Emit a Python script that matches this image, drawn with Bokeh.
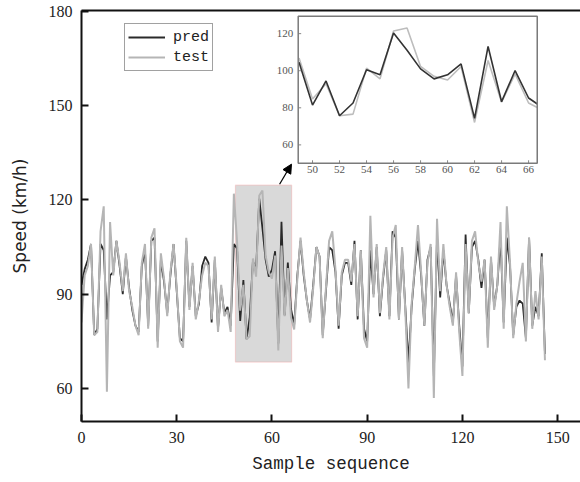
from bokeh.plotting import figure
from bokeh.models import (Range1d, LinearAxis, FixedTicker, Legend, LegendItem,
                          BoxAnnotation, Arrow, NormalHead, ColumnDataSource)
from bokeh.core.properties import value
from bokeh.embed import file_html
from bokeh.resources import INLINE

# ---------------- data ----------------
pred = [93, 98, 101, 106, 77, 79, 106, 104, 82, 96,
        97, 107, 99, 90, 102, 92, 85, 80, 78, 99,
        104, 80, 107, 108, 75, 101, 94, 84, 96, 106,
        91, 76, 75, 107, 86, 99, 83, 87, 99, 102,
        100, 81, 101, 79, 92, 84, 86, 80, 106, 104.6,
        81.5, 94.5, 75.7, 82.6, 100.5, 97.8, 120.4, 111, 101, 95.6,
        97.8, 103.7, 74.3, 113.1, 83.3, 100.1, 85.3, 80.3, 96, 107,
        96, 88, 82, 93, 105, 102, 77, 91, 105, 104,
        97, 79, 96, 100, 100, 93, 107, 82, 104, 79,
        75, 104, 90, 105, 83, 95, 104, 83, 110, 108,
        82, 104, 86, 68, 86, 98, 107, 96, 80, 101,
        105, 64, 108, 89, 104, 93, 87, 81, 96, 80,
        67, 109, 84, 105, 107, 101, 92, 101, 76, 101,
        86, 93, 108, 81, 108, 99, 77, 86, 88, 87,
        76, 108, 80, 86, 83, 103, 71]
test = [81, 96, 99, 106, 77, 78, 110, 118, 59, 113,
        96, 107, 100, 91, 103, 91, 86, 80, 77, 100,
        106, 79, 108, 111, 73, 103, 95, 83, 97, 106,
        92, 75, 73, 108, 85, 100, 82, 88, 96, 100,
        99, 82, 102, 78, 93, 83, 85, 78, 122, 106.8,
        84.8, 93, 75.7, 76.6, 101.4, 95.6, 121.4, 123, 102.3, 97,
        95, 102.3, 72.1, 105.5, 83, 98.3, 82.6, 78.8, 95, 108,
        97, 88, 81, 92, 105, 102, 76, 92, 107, 110,
        98, 80, 97, 101, 101, 94, 106, 83, 104, 76,
        73, 115, 89, 106, 84, 96, 105, 82, 108, 112,
        82, 105, 85, 60, 87, 99, 112, 97, 80, 100,
        106, 57, 114, 91, 106, 93, 86, 80, 97, 78,
        64, 106, 84, 107, 110, 100, 94, 101, 73, 102,
        85, 93, 113, 79, 118, 100, 76, 87, 94, 100,
        75, 108, 79, 91, 82, 102, 69]
sample = list(range(len(pred)))

x_ticks = [0, 30, 60, 90, 120, 150]
y_ticks = [60, 90, 120, 150, 180]
inset_x_ticks = [50, 52, 54, 56, 58, 60, 62, 64, 66]
inset_y_ticks = [60, 80, 100, 120]

# zoomed window (main data units) and inset view ranges
zoom_x0, zoom_x1 = 48.5, 66.2
zoom_y0, zoom_y1 = 68.4, 124.7
inset_first, inset_last = 49, 67
inset_x = (48.94, 66.64)
inset_y = (50.1, 129.4)
# where the inset sits inside the main plot (main data units)
inset_target_x = (68.27, 143.57)
inset_target_y = (131.69, 178.48)

src = ColumnDataSource(dict(x=sample, pred=pred, test=test))
isrc = ColumnDataSource(dict(x=sample[inset_first:inset_last + 1],
                             pred=pred[inset_first:inset_last + 1],
                             test=test[inset_first:inset_last + 1]))

# ---------------- main figure ----------------
p = figure(width=580, height=482, output_backend="svg", toolbar_location=None,
           x_range=Range1d(0, 157.2), y_range=Range1d(49.5, 180.3),
           min_border_left=81, min_border_right=0, min_border_top=10,
           min_border_bottom=61, outline_line_color=None,
           background_fill_color="white", border_fill_color="white")
p.grid.visible = False

box = BoxAnnotation(left=zoom_x0, right=zoom_x1, bottom=zoom_y0, top=zoom_y1,
                    fill_color="#d9d9d9", fill_alpha=1.0,
                    line_color="#f08a8a", line_width=1.2, level="underlay")
p.add_layout(box)

r_pred = p.line("x", "pred", source=src, line_color="#2a2a2a", line_width=1.8)
r_test = p.line("x", "test", source=src, line_color="#b5b5b5", line_width=2.0)

for ax in (p.xaxis[0], p.yaxis[0]):
    ax.axis_line_width = 2
    ax.axis_line_color = "#111111"
    ax.major_tick_in = 7
    ax.major_tick_out = 0
    ax.major_tick_line_width = 2
    ax.major_tick_line_color = "#111111"
    ax.minor_tick_line_color = None
    ax.major_label_text_font = "Liberation Serif"
    ax.major_label_text_font_size = "16px"
    ax.major_label_text_color = "#222222"

p.xaxis.ticker = FixedTicker(ticks=x_ticks)
p.yaxis.ticker = FixedTicker(ticks=y_ticks)
p.xaxis.major_label_standoff = 10
p.yaxis.major_label_standoff = 9

p.xaxis.axis_label = "Sample sequence"
p.xaxis.axis_label_text_font = "Liberation Mono"
p.xaxis.axis_label_text_font_size = "17.5px"
p.xaxis.axis_label_text_font_style = "normal"
p.xaxis.axis_label_text_color = "#222222"
p.xaxis.axis_label_standoff = 8

p.yaxis.axis_label = "Speed (km/h)"
p.yaxis.axis_label_text_font = "DejaVu Sans"
p.yaxis.axis_label_text_font_size = "17px"
p.yaxis.axis_label_text_font_style = "normal"
p.yaxis.axis_label_text_color = "#222222"
p.yaxis.axis_label_standoff = 16

top_axis = LinearAxis(ticker=FixedTicker(ticks=[]), axis_line_width=2,
                      axis_line_color="#111111", major_tick_in=0, major_tick_out=0,
                      minor_tick_in=0, minor_tick_out=0, major_label_standoff=0,
                      major_label_text_font_size="0px")
p.add_layout(top_axis, "above")

arrow = Arrow(end=NormalHead(size=9, fill_color="black", line_color="black"),
              x_start=zoom_x1 - 3.8, y_start=zoom_y1 + 0.3,
              x_end=zoom_x1 - 0.05, y_end=zoom_y1 + 6.7,
              line_color="black", line_width=1.2)
p.add_layout(arrow)

legend = Legend(items=[LegendItem(label="pred", renderers=[r_pred]),
                       LegendItem(label="test", renderers=[r_test])],
                location=(43, 350), label_text_font="Liberation Mono",
                label_text_font_size="15px", label_text_color="#222222",
                glyph_width=37, glyph_height=20, label_height=20,
                label_standoff=8, spacing=0, padding=3, margin=0,
                border_line_color="#444444", border_line_width=1.5,
                background_fill_color="white", background_fill_alpha=1.0)
p.add_layout(legend)

# ---------------- inset (sub-coordinates inside the main plot) ----------------
ins = p.subplot(x_source=Range1d(*inset_x), y_source=Range1d(*inset_y),
                x_target=Range1d(*inset_target_x), y_target=Range1d(*inset_target_y))

ins.quad(left=[inset_x[0]], right=[inset_x[1]], bottom=[inset_y[0]], top=[inset_y[1]],
         fill_color="white", line_color=None)
ins.line("x", "test", source=isrc, line_color="#bdbdbd", line_width=1.6)
ins.line("x", "pred", source=isrc, line_color="#333333", line_width=1.6)
# white mask for the part of the last segment beyond the inset's right edge
ins.quad(left=[inset_x[1]], right=[inset_last + 0.4], bottom=[inset_y[0]], top=[inset_y[1]],
         fill_color="white", line_color=None)

# inset ticks
ins.segment(x0=inset_x_ticks, y0=[inset_y[0]] * len(inset_x_ticks),
            x1=inset_x_ticks, y1=[inset_y[0] + 1.6] * len(inset_x_ticks),
            line_color="#888888", line_width=1)
ins.segment(x0=[inset_x[0]] * len(inset_y_ticks), y0=inset_y_ticks,
            x1=[inset_x[0] + 0.22] * len(inset_y_ticks), y1=inset_y_ticks,
            line_color="#888888", line_width=1)
# inset tick labels
ins.text(x=inset_x_ticks, y=[inset_y[0]] * len(inset_x_ticks),
         text=[str(t) for t in inset_x_ticks], y_offset=3,
         text_align="center", text_baseline="top",
         text_font=value("Liberation Serif"), text_font_size=value("11px"),
         text_color="#555555")
ins.text(x=[inset_x[0]] * len(inset_y_ticks), y=inset_y_ticks,
         text=[str(t) for t in inset_y_ticks], x_offset=-5,
         text_align="right", text_baseline="middle",
         text_font=value("Liberation Serif"), text_font_size=value("11px"),
         text_color="#555555")
# inset frame
ins.quad(left=[inset_x[0]], right=[inset_x[1]], bottom=[inset_y[0]], top=[inset_y[1]],
         fill_alpha=0, line_color="#7a7a7a", line_width=1.5)

open("out.html", "w").write(file_html(p, INLINE))
